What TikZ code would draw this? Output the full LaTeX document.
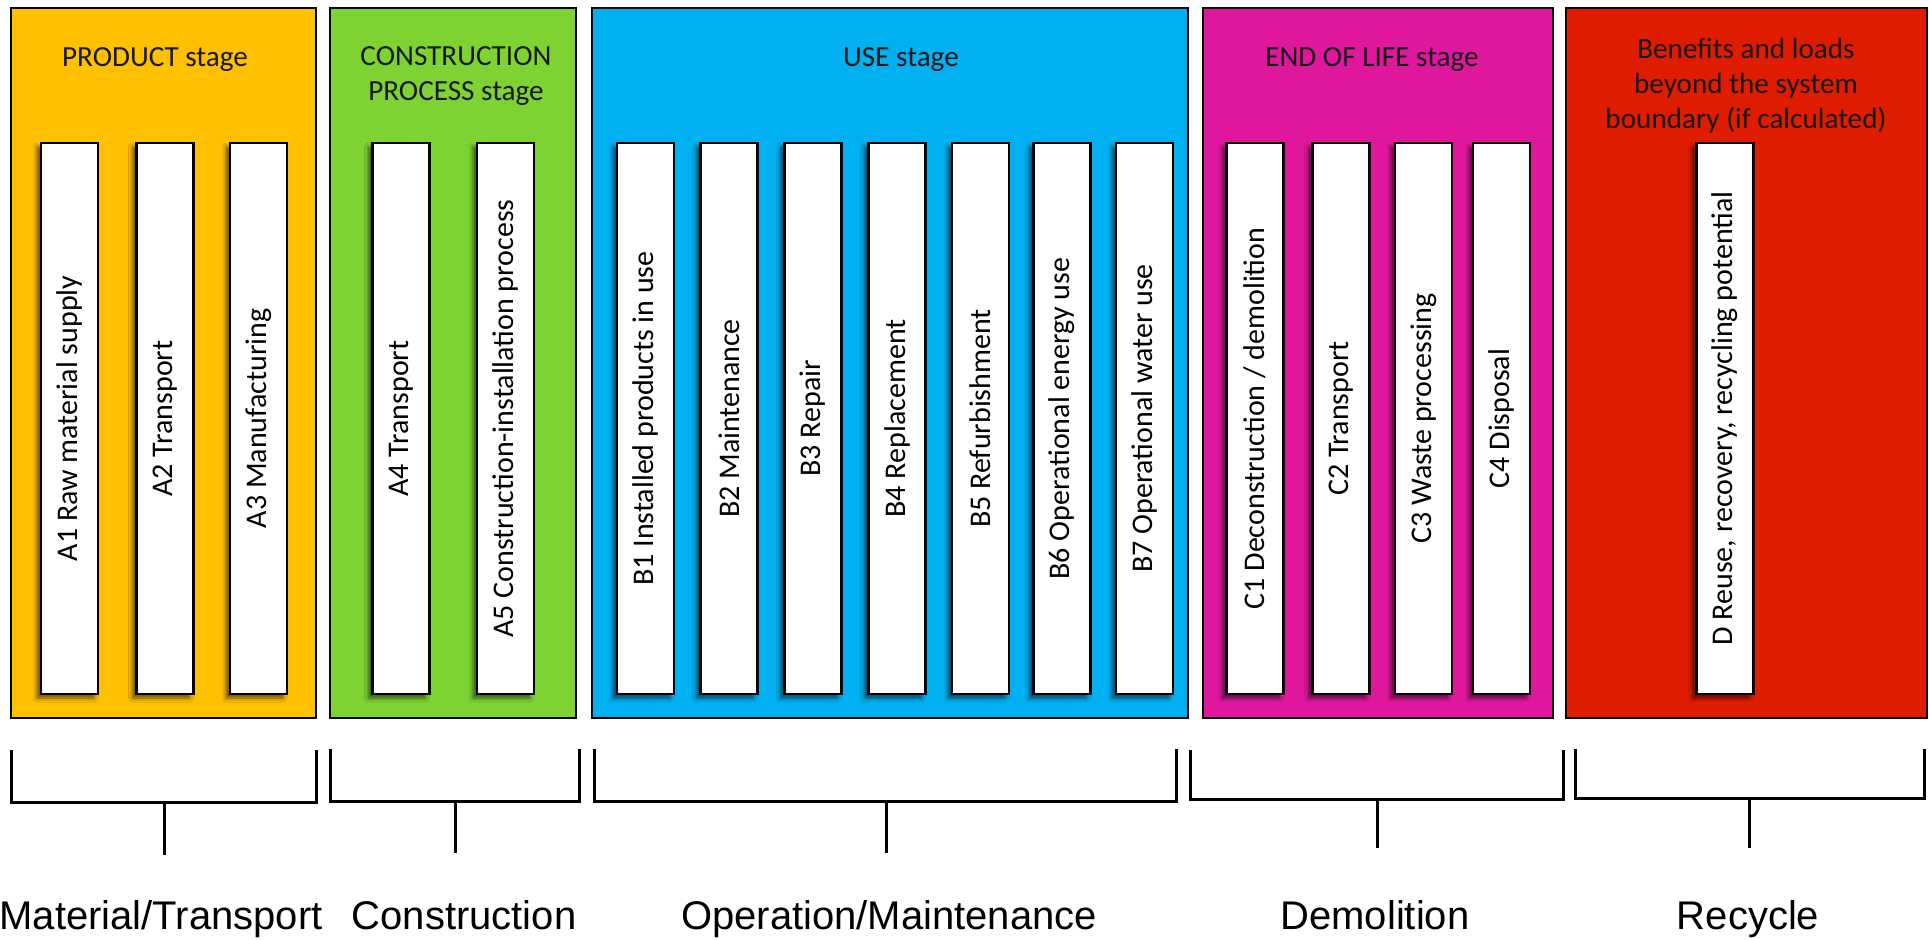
\documentclass[tikz,border=0pt]{standalone}
\usepackage{fontspec}
\setmainfont{Carlito}
\newfontfamily\phasefont{Liberation Sans}
\usetikzlibrary{shadows.blur}

\definecolor{prodorange}{RGB}{255,192,0}
\definecolor{constgreen}{RGB}{126,211,51}
\definecolor{useblue}{RGB}{0,176,240}
\definecolor{eolmagenta}{RGB}{222,23,157}
\definecolor{benred}{RGB}{223,27,0}

\begin{document}
\begin{tikzpicture}[x=0.5pt, y=-0.5pt,
  stage/.style={draw, line width=1.4pt, inner sep=0pt, minimum height=355pt},
  title/.style={font=\fontsize{14.6}{17.5}\selectfont, align=center, anchor=base, text=black!90},
  bar/.style={draw, line width=1.2pt, fill=white, rotate=90, inner sep=0pt,
    minimum width=275.5pt, minimum height=28.5pt, font=\fontsize{15}{18}\selectfont,
    blur shadow={shadow xshift=-2pt, shadow yshift=-2pt, shadow blur radius=2pt, shadow opacity=60}},
  bracket/.style={line width=1.5pt},
  phase/.style={font=\phasefont\fontsize{20}{24}\selectfont, anchor=base}]
  \useasboundingbox (0,0) rectangle (1929,939);

  \node[stage, fill=prodorange, minimum width=152.5pt] (product) at (163.5,363) {};
  \node[stage, fill=constgreen, minimum width=123pt] (construction) at (453,363) {};
  \node[stage, fill=useblue, minimum width=298pt] (use) at (890,363) {};
  \node[stage, fill=eolmagenta, minimum width=175pt] (endoflife) at (1378,363) {};
  \node[stage, fill=benred, minimum width=180.5pt] (beyond) at (1746.5,363) {};

  % base anchor sits on the last line
  \node[title] (product title) at (155,66) {PRODUCT stage};
  \node[title] (construction title) at (456,100) {CONSTRUCTION\\PROCESS stage};
  \node[title] (use title) at (901,66) {USE stage};
  \node[title] (endoflife title) at (1372,66) {END OF LIFE stage};
  \node[title] (beyond title) at (1746,128) {Benefits and loads\\beyond the system\\boundary (if calculated)};

  \node[bar] (a1) at (69.5,418.5) {A1 Raw material supply};
  \node[bar] (a2) at (165,418.5) {A2 Transport};
  \node[bar] (a3) at (258.5,418.5) {A3 Manufacturing};
  \node[bar] (a4) at (401,418.5) {A4 Transport};
  \node[bar] (a5) at (505.5,418.5) {A5 Construction-installation process};
  \node[bar] (b1) at (645.5,418.5) {B1 Installed products in use};
  \node[bar] (b2) at (729,418.5) {B2 Maintenance};
  \node[bar] (b3) at (813,418.5) {B3 Repair};
  \node[bar] (b4) at (897,418.5) {B4 Replacement};
  \node[bar] (b5) at (980.5,418.5) {B5 Refurbishment};
  \node[bar] (b6) at (1062,418.5) {B6 Operational energy use};
  \node[bar] (b7) at (1144.5,418.5) {B7 Operational water use};
  \node[bar] (c1) at (1255,418.5) {C1 Deconstruction / demolition};
  \node[bar] (c2) at (1341,418.5) {C2 Transport};
  \node[bar] (c3) at (1423.5,418.5) {C3 Waste processing};
  \node[bar] (c4) at (1501.5,418.5) {C4 Disposal};
  \node[bar] (d) at (1725,418.5) {D Reuse, recovery, recycling potential};

  \draw[bracket] (11,750) |- (316,802) -- (316,750);
  \draw[bracket] (164,802) -- (164,855);
  \draw[bracket] (330,749) |- (579,801) -- (579,749);
  \draw[bracket] (455,801) -- (455,853);
  \draw[bracket] (594,749) |- (1176,801) -- (1176,749);
  \draw[bracket] (886,801) -- (886,853);
  \draw[bracket] (1190,750) |- (1563,799) -- (1563,750);
  \draw[bracket] (1377,799) -- (1377,848);
  \draw[bracket] (1575,749) |- (1924,798) -- (1924,749);
  \draw[bracket] (1749,798) -- (1749,848);

  \node[phase] (matl) at (161,929) {Material/Transport};
  \node[phase] (constr) at (464,929) {Construction};
  \node[phase] (oper) at (889,929) {Operation/Maintenance};
  \node[phase] (demol) at (1375,929) {Demolition};
  \node[phase] (recyc) at (1748,929) {Recycle};
\end{tikzpicture}
\end{document}
